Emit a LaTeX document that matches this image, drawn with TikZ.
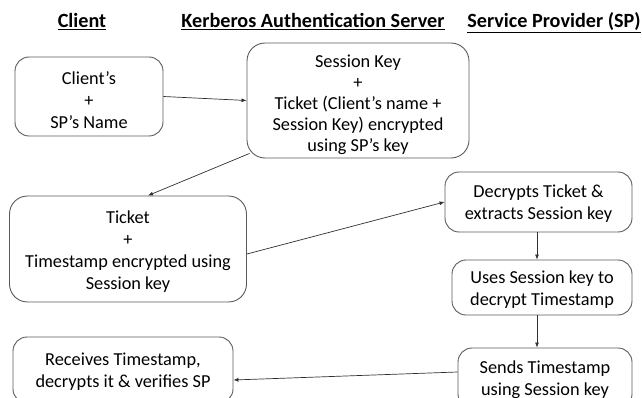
\documentclass[tikz,border=0pt]{standalone}
\usepackage{fontspec}
\setmainfont{Carlito}
\usetikzlibrary{arrows.meta}
\definecolor{boxgray}{HTML}{5A5A5A}
\definecolor{arrgray}{HTML}{303030}
\begin{document}
\begin{tikzpicture}[x=1pt,y=-1pt,
  box/.style={draw=boxgray, line width=0.9pt, rounded corners=14pt, inner sep=0pt},
  txt/.style={align=center, inner sep=0pt, font=\fontsize{18.3}{22}\selectfont},
  arr/.style={-{Latex[length=5pt,width=4pt]}, line width=0.7pt, draw=arrgray},
  head/.style={font=\bfseries\fontsize{20.2}{22}\selectfont, inner sep=0pt, anchor=base}]
\useasboundingbox (0,0) rectangle (642,398);
\clip (0,0) rectangle (642,398);
% headers
\node[head] (h1) at (82,28) {\underline{Client}};
\node[head] (h2) at (313,28) {\underline{Kerberos Authentication Server}};
\node[head] (h3) at (554,28) {\underline{Service Provider (SP)}};
% boxes
\node[box, minimum width=148pt, minimum height=79pt] (b1) at (89,96.5) {};
\node[txt] (t1) at ([yshift=-4pt]b1.center) {Client’s\\+\\SP’s Name};
\node[box, rounded corners=18pt, minimum width=222pt, minimum height=115pt] (b2) at (358,100.5) {};
\node[txt, font=\fontsize{18.3}{21}\selectfont] (t2) at ([yshift=-4pt]b2.center)
  {Session Key\\+\\Ticket (Client’s name +\\Session Key) encrypted\\using SP’s key};
\node[box, rounded corners=18pt, minimum width=237pt, minimum height=106pt] (b3) at (128,249) {};
\node[txt] (t3) at ([yshift=-2.5pt]b3.center) {Ticket\\+\\Timestamp encrypted using\\Session key};
\node[box, minimum width=220pt, minimum height=66pt] (b4) at (123,370) {};
\node[txt] (t4) at ([yshift=-1.5pt]b4.center) {Receives Timestamp,\\decrypts it \& verifies SP};
\node[box, minimum width=187pt, minimum height=60pt] (b5) at (538.5,202) {};
\node[txt] (t5) at ([yshift=-1.5pt]b5.center) {Decrypts Ticket \&\\extracts Session key};
\node[box, minimum width=180pt, minimum height=55pt] (b6) at (542,287.5) {};
\node[txt] (t6) at ([yshift=-2pt]b6.center) {Uses Session key to\\decrypt Timestamp};
\node[box, minimum width=174pt, minimum height=60pt] (b7) at (545,378) {};
\node[txt] (t7) at ([yshift=-2pt]b7.center) {Sends Timestamp\\using Session key};
% arrows
\draw[arr] (b1.east) -- (b2.west);
\draw[arr] ([xshift=3pt,yshift=5pt]b2.south west) -- ([xshift=20pt]b3.north);
\draw[arr] ([yshift=-5pt]b3.east) -- (b5.west);
\draw[arr] ([xshift=-1.5pt]b5.south) -- ([xshift=-1.5pt]b5.south |- b6.north);
\draw[arr] ([xshift=-5pt]b6.south) -- ([xshift=-5pt]b6.south |- b7.north);
\draw[arr] ([yshift=6pt]b7.west) -- ([yshift=-10pt]b4.east);
\end{tikzpicture}
\end{document}
